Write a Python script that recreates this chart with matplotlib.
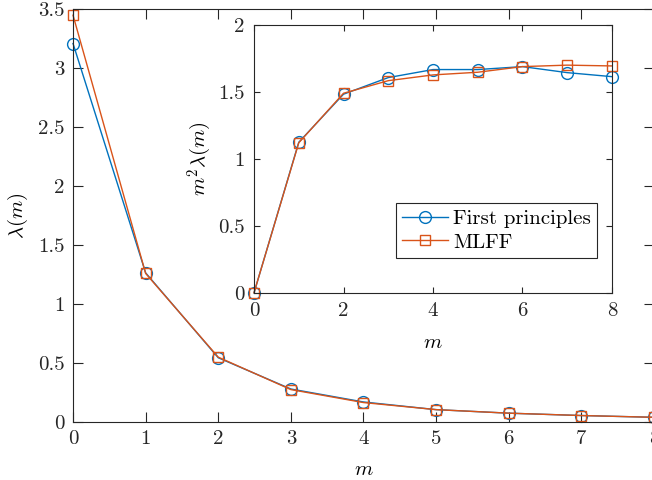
import numpy as np
import matplotlib
matplotlib.use('Agg')
import matplotlib.pyplot as plt

# +
# data
# -
m = [0, 1, 2, 3, 4, 5, 6, 7, 8]
lam_fp = [3.21, 1.265, 0.545, 0.28, 0.17, 0.105, 0.075, 0.055, 0.04]
lam_ml = [3.45, 1.26, 0.55, 0.275, 0.165, 0.105, 0.075, 0.055, 0.04]
m2lam_fp = [0.0, 1.124, 1.483, 1.607, 1.667, 1.667, 1.689, 1.644, 1.614]
m2lam_ml = [0.0, 1.12, 1.49, 1.584, 1.627, 1.647, 1.689, 1.70, 1.694]

main_xticks = [0, 1, 2, 3, 4, 5, 6, 7, 8]
main_yticks = [0, 0.5, 1, 1.5, 2, 2.5, 3, 3.5]
inset_xticks = [0, 2, 4, 6, 8]
inset_yticks = [0, 0.5, 1, 1.5, 2]

BLUE = '#0072BD'
ORANGE = '#D95319'

# +
# style
# -
plt.rcParams['font.family'] = 'serif'
plt.rcParams['font.serif'] = ['cmr10']
plt.rcParams['mathtext.fontset'] = 'cm'
plt.rcParams['axes.formatter.use_mathtext'] = True
plt.rcParams['font.size'] = 15


def fmt(v):
    return f'{v:g}'


def style_axes(ax, ticklen, pad):
    ax.tick_params(direction='in', top=True, right=True, length=ticklen, width=0.8,
                   colors='#262626', labelcolor='#262626', pad=pad)
    for s in ax.spines.values():
        s.set_color('#262626')
        s.set_linewidth(0.8)


fig = plt.figure(figsize=(6.52, 4.8), dpi=100)

# main axes
ax = fig.add_axes([0.112, 0.1208, 0.891, 0.8598])
ax.plot(m, lam_fp, '-o', color=BLUE, lw=1.0, ms=8.5, mfc='none', mew=1.0, clip_on=False)
ax.plot(m, lam_ml, '-s', color=ORANGE, lw=1.0, ms=7.5, mfc='none', mew=1.0, clip_on=False)
ax.set_xlim(0, 8)
ax.set_ylim(0, 3.5)
ax.set_xticks(main_xticks)
ax.set_xticklabels([fmt(v) for v in main_xticks])
ax.set_yticks(main_yticks)
ax.set_yticklabels([fmt(v) for v in main_yticks])
ax.set_xlabel(r'$m$', labelpad=9)
ax.set_ylabel(r'$\lambda(m)$', labelpad=6)
style_axes(ax, 7, 6)

# inset
axi = fig.add_axes([0.3896, 0.390, 0.549, 0.558])
axi.plot(m, m2lam_fp, '-o', color=BLUE, lw=1.0, ms=8.5, mfc='none', mew=1.0,
         clip_on=False, label='First principles')
axi.plot(m, m2lam_ml, '-s', color=ORANGE, lw=1.0, ms=7.5, mfc='none', mew=1.0,
         clip_on=False, label='MLFF')
axi.set_xlim(0, 8)
axi.set_ylim(0, 2)
axi.set_xticks(inset_xticks)
axi.set_xticklabels([fmt(v) for v in inset_xticks])
axi.set_yticks(inset_yticks)
axi.set_yticklabels([fmt(v) for v in inset_yticks])
axi.set_xlabel(r'$m$', labelpad=10)
axi.set_ylabel(r'$m^2\lambda(m)$', labelpad=3)
style_axes(axi, 4, 7)
leg = axi.legend(loc='lower right', bbox_to_anchor=(0.958, 0.13), fancybox=False,
                 framealpha=1, edgecolor='#262626', handlelength=2.2, borderpad=0.3,
                 labelspacing=0.25, handletextpad=0.25, borderaxespad=0)
leg.get_frame().set_linewidth(0.8)

fig.savefig('out.png', dpi=100)
